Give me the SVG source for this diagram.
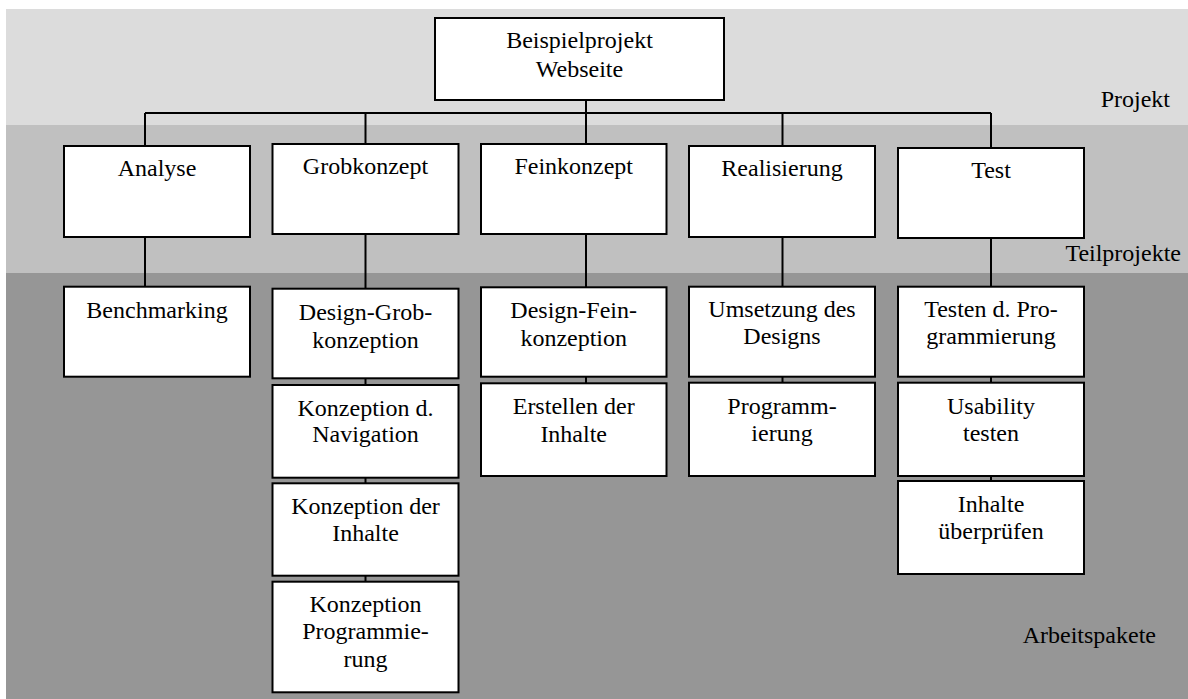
<svg xmlns="http://www.w3.org/2000/svg" width="1188" height="699" viewBox="0 0 1188 699">
<style>
.box{fill:#fff;stroke:#000;stroke-width:2}
text{font-family:'Liberation Serif','Times New Roman',Times,serif;font-size:24px;fill:#000}
.t{text-anchor:middle}
.c{stroke:#000;stroke-width:2;fill:none}
</style>
<rect x="0" y="0" width="1188" height="699" fill="#fff"/>
<g id="bands">
<rect x="6" y="9" width="1182" height="116" fill="#dcdcdc"/>
<rect x="6" y="125" width="1182" height="148" fill="#c0c0c0"/>
<rect x="6" y="273" width="1182" height="426" fill="#969696"/>
<text x="1170" y="107" text-anchor="end">Projekt</text>
<text x="1181" y="261" text-anchor="end">Teilprojekte</text>
<text x="1156" y="643" text-anchor="end">Arbeitspakete</text>
</g>
<g id="connectors">
<path class="c" d="M145 113H991"/>
<path class="c" d="M145 113V146M365.5 113V144M586 100V144M782.5 113V146M991 113V148"/>
<path class="c" d="M145 236.7V286.7M365.5 234V288.7M586 234V287.3M782.5 236.7V286.7M991 238V286.7"/>
<path class="c" d="M365.5 378V385M365.5 477.7V483.3M365.5 575.7V581.7M586 376.7V383.3M782.5 376.7V382.7M991 376.7V382.7M991 476V481"/>
</g>
<g id="n-root"><rect class="box" x="435" y="18" width="289" height="82"/><text class="t" x="579.5" y="47.5">Beispielprojekt</text><text class="t" x="579.5" y="76.5">Webseite</text></g>
<g id="n-analyse"><rect class="box" x="64" y="146" width="186" height="91"/><text class="t" x="157" y="176">Analyse</text></g>
<g id="n-grobkonzept"><rect class="box" x="272.5" y="144" width="186" height="90"/><text class="t" x="365.5" y="174">Grobkonzept</text></g>
<g id="n-feinkonzept"><rect class="box" x="481" y="144" width="185.5" height="90"/><text class="t" x="573.7" y="174">Feinkonzept</text></g>
<g id="n-realisierung"><rect class="box" x="689" y="146" width="186" height="91"/><text class="t" x="782" y="176">Realisierung</text></g>
<g id="n-test"><rect class="box" x="898" y="148" width="186" height="90"/><text class="t" x="991" y="178">Test</text></g>
<g id="n-benchmarking"><rect class="box" x="64" y="286.7" width="186" height="90"/><text class="t" x="157" y="318">Benchmarking</text></g>
<g id="n-design-grob"><rect class="box" x="272.5" y="288.7" width="186" height="89.6"/><text class="t" x="365.5" y="320">Design-Grob-</text><text class="t" x="365.5" y="348">konzeption</text></g>
<g id="n-navigation"><rect class="box" x="272.5" y="385" width="186" height="92.7"/><text class="t" x="365.5" y="415.5">Konzeption d.</text><text class="t" x="365.5" y="442">Navigation</text></g>
<g id="n-inhalte-konz"><rect class="box" x="272.5" y="483.3" width="186" height="92.4"/><text class="t" x="365.5" y="514">Konzeption der</text><text class="t" x="365.5" y="541">Inhalte</text></g>
<g id="n-programmierung-konz"><rect class="box" x="272.5" y="581.7" width="186" height="110.6"/><text class="t" x="365.5" y="611.7">Konzeption</text><text class="t" x="365.5" y="639">Programmie-</text><text class="t" x="365.5" y="666.5">rung</text></g>
<g id="n-design-fein"><rect class="box" x="481" y="287.3" width="185.5" height="89.4"/><text class="t" x="573.7" y="318">Design-Fein-</text><text class="t" x="573.7" y="345.5">konzeption</text></g>
<g id="n-erstellen"><rect class="box" x="481" y="383.3" width="185.5" height="92.7"/><text class="t" x="573.7" y="414">Erstellen der</text><text class="t" x="573.7" y="441.5">Inhalte</text></g>
<g id="n-umsetzung"><rect class="box" x="689" y="286.7" width="186" height="90"/><text class="t" x="782" y="317">Umsetzung des</text><text class="t" x="782" y="344.3">Designs</text></g>
<g id="n-programmierung"><rect class="box" x="689" y="382.7" width="186" height="93.3"/><text class="t" x="782" y="413.5">Programm-</text><text class="t" x="782" y="441">ierung</text></g>
<g id="n-testen"><rect class="box" x="898" y="286.7" width="186" height="90"/><text class="t" x="991" y="317">Testen d. Pro-</text><text class="t" x="991" y="344.3">grammierung</text></g>
<g id="n-usability"><rect class="box" x="898" y="382.7" width="186" height="93.3"/><text class="t" x="991" y="413.5">Usability</text><text class="t" x="991" y="441">testen</text></g>
<g id="n-ueberpruefen"><rect class="box" x="898" y="481" width="186" height="93"/><text class="t" x="991" y="511.5">Inhalte</text><text class="t" x="991" y="539">überprüfen</text></g>
</svg>
